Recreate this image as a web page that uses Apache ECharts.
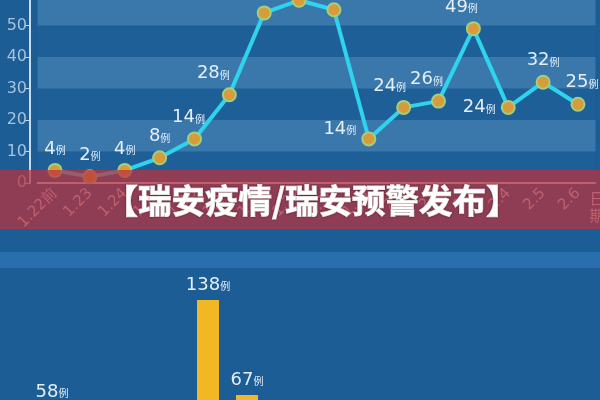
<!DOCTYPE html>
<html>
<head>
<meta charset="utf-8">
<script src="https://cdn.jsdelivr.net/npm/echarts@6/dist/echarts.min.js"></script>
<style>
html,body{margin:0;padding:0;background:#1c5d96;overflow:hidden;width:600px;height:400px;}
#c{position:absolute;left:0;top:-10px;width:600px;height:510px;}
</style>
</head>
<body>
<div id="c"></div>
<script>
// ---- data ----
const dates = ['1.22前','1.23','1.24','1.25','1.26','1.27','1.28','1.29','1.30','1.31','2.1','2.2','2.3','2.4','2.5','2.6'];
const cases = [4, 2, 4, 8, 14, 28, 54, 58, 55, 14, 24, 26, 49, 24, 32, 25];
const yMin = 0, yMax = 60, yStep = 10;
const barCats = ['1', '2', '3', '4', '5', '6'];
const barValues = [58, 20, 15, 30, 138, 67];
const bannerText = '【瑞安疫情/瑞安预警发布】';
const unit = '例';

// ---- label style tweaks (layout, not data) ----
const labelTweaks = {
  4: {offset: [-6, 0]},
  5: {offset: [-16, 0]},
  9: {position: 'left', offset: [0, -10]},
  10: {offset: [-14, 0]},
  11: {offset: [-12, 0]},
  12: {offset: [-12, 0]},
  13: {position: 'left'},
  15: {offset: [4, 0]}
};

const rich = {
  n: {fontSize: 18, color: '#e4eef8', fontFamily: 'DejaVu Sans'},
  u: {fontSize: 10, color: '#e4eef8', fontFamily: 'Noto Sans CJK SC', padding: [3, 0, 0, 0]}
};

const lineData = cases.map((v, i) => {
  const d = {value: v};
  if (labelTweaks[i]) d.label = labelTweaks[i];
  return d;
});

const S = 10; // chart div is shifted up by this many px
const chart = echarts.init(document.getElementById('c'), null, {renderer: 'canvas'});
chart.setOption({
  backgroundColor: '#1c5d96',
  animation: false,
  grid: [
    {left: 37.6, right: 4.6, top: S - 6, height: 189, outerBoundsMode: 'none', containLabel: false},
    {left: 32.5, width: 234, top: S + 284, height: 200.7, outerBoundsMode: 'none', containLabel: false}
  ],
  xAxis: [
    {
      type: 'category', gridIndex: 0, data: dates, boundaryGap: true,
      axisLine: {lineStyle: {color: '#c9dced', width: 2}},
      axisTick: {alignWithLabel: true, length: 5, lineStyle: {color: '#c9dced'}},
      axisLabel: {rotate: 45, interval: 0, color: '#c4d9ec', fontSize: 15, margin: 8, fontFamily: 'DejaVu Sans'},
      name: '日\n期', nameLocation: 'end', nameGap: -6,
      nameTextStyle: {color: '#c4d9ec', fontSize: 15, align: 'left', verticalAlign: 'top', lineHeight: 17, padding: [7, 0, 0, 0], fontFamily: 'Noto Sans CJK SC'}
    },
    {
      type: 'category', gridIndex: 1, data: barCats, show: false
    }
  ],
  yAxis: [
    {
      type: 'value', gridIndex: 0, min: yMin, max: yMax, interval: yStep, offset: 7.6,
      axisLine: {show: true, lineStyle: {color: '#c9dced', width: 2}},
      axisTick: {show: true, length: 5, lineStyle: {color: '#c9dced'}},
      axisLabel: {color: '#a6c3dc', fontSize: 16, margin: 3, fontFamily: 'DejaVu Sans'},
      splitLine: {show: false},
      splitArea: {show: true, areaStyle: {color: ['#1e5f97', '#3a78ac']}}
    },
    {
      type: 'value', gridIndex: 1, min: 0, max: 150, show: false
    }
  ],
  series: [
    {
      type: 'line', xAxisIndex: 0, yAxisIndex: 0, data: lineData,
      lineStyle: {color: '#2fd3ee', width: 4},
      symbol: 'circle', symbolSize: 13,
      itemStyle: {color: '#d79b3b', borderColor: '#a3cf7a', borderWidth: 2},
      label: {
        show: true, position: 'top', distance: 5,
        formatter: p => '{n|' + p.value + '}{u|' + unit + '}',
        rich: rich
      },
      z: 3
    },
    {
      type: 'bar', xAxisIndex: 1, yAxisIndex: 1, data: barValues,
      barWidth: 22,
      itemStyle: {color: '#f1b823'},
      label: {
        show: true, position: 'top', distance: 6,
        formatter: p => '{n|' + p.value + '}{u|' + unit + '}',
        rich: rich
      }
    }
  ],
  graphic: [
    {
      type: 'rect', z: 0, silent: true,
      shape: {x: 0, y: S + 252, width: 600, height: 16},
      style: {fill: '#2a6fad'}
    },
    {
      type: 'rect', z: 100, silent: true,
      shape: {x: 0, y: S + 170, width: 600, height: 59},
      style: {fill: 'rgba(188,48,60,0.72)'}
    },
    {
      type: 'text', z: 101, silent: true,
      x: 312, y: S + 200,
      style: {
        text: bannerText, fill: '#ffffff', fontSize: 33.5, fontWeight: 'bold',
        fontFamily: 'Noto Sans CJK SC', align: 'center', verticalAlign: 'middle',
        stroke: '#ffffff', lineWidth: 1,
        textShadowColor: 'rgba(60,0,10,0.5)', textShadowBlur: 2
      }
    }
  ]
});
</script>
</body>
</html>
